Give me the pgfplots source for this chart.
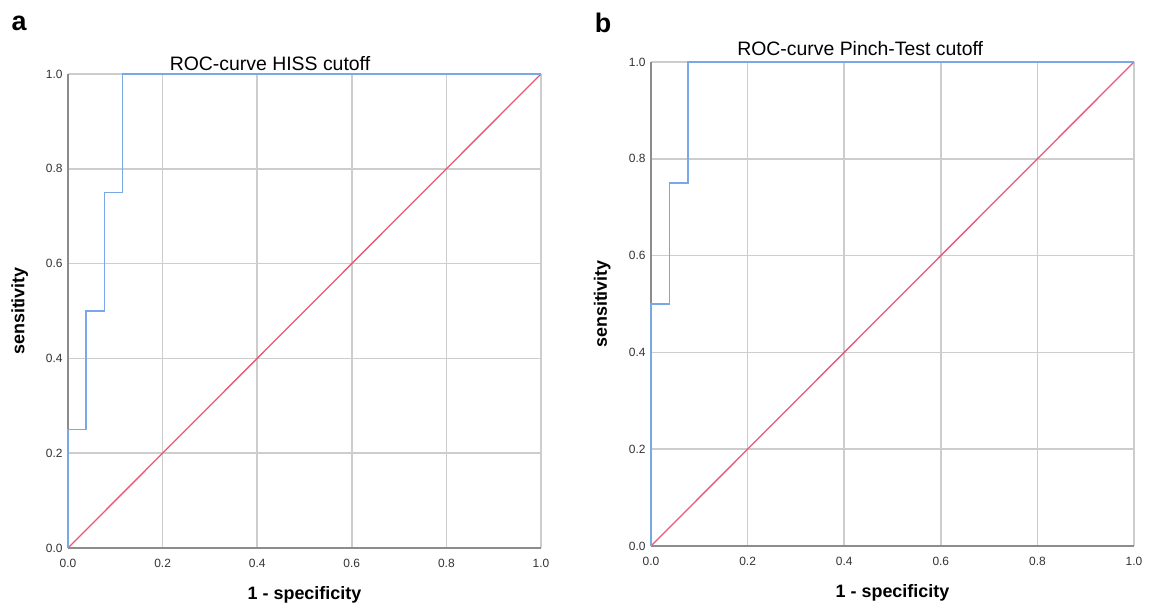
\documentclass[border=0pt]{standalone}
\usepackage{pgfplots}
\pgfplotsset{compat=1.18}
\usepackage{fontspec}
\setmainfont{Liberation Sans}
\definecolor{roc}{HTML}{7AA7E6}
\definecolor{diag}{HTML}{E8587A}
\definecolor{gridc}{HTML}{CDCDCD}
\definecolor{axc}{HTML}{8C8C8C}
\definecolor{tickc}{HTML}{333333}
\pgfplotsset{
  rocstyle/.style={
    scale only axis,
    xmin=0, xmax=1, ymin=0, ymax=1,
    xtick={0,0.2,...,1.0}, ytick={0,0.2,...,1.0},
    xticklabel style={yshift=-8bp, /pgf/number format/.cd,fixed,fixed zerofill,precision=1},
    yticklabel style={xshift=-2bp, /pgf/number format/.cd,fixed,fixed zerofill,precision=1},
    /pgf/number format/assume math mode=true,
    tick label style={font=\fontsize{12}{14}\selectfont, text=tickc},
    grid=major,
    major grid style={gridc, line width=1.5pt},
    axis x line*=bottom, axis y line*=left,
    axis line style={axc, line width=2pt, -},
    tick style={draw=none},
    xlabel={\textbf{1 - specificity}},
    ylabel={\textbf{sensitivity}},
    xlabel style={font=\fontsize{18}{20}\selectfont, at={(axis description cs:0.5,0)}, anchor=center, yshift=-47bp},
    title style={font=\fontsize{19.5}{22}\selectfont, anchor=center},
    clip=false,
  }
}
\begin{document}
\begin{tikzpicture}[x=1bp,y=1bp]
\path (0,0) rectangle (1150,605);
\node[font=\bfseries\fontsize{27}{29}\selectfont] at (19,582) {a};
\node[font=\bfseries\fontsize{27}{29}\selectfont] at (603,582) {b};
\begin{axis}[rocstyle,
  at={(68bp,57bp)}, anchor=south west,
  width=473bp, height=474bp,
  title={ROC-curve HISS cutoff},
  title style={at={(0.427,1)}, yshift=4bp},
  ylabel style={font=\fontsize{18}{20}\selectfont, at={(axis description cs:-0.102,0.5)}, anchor=center, rotate=0},
]
\addplot[diag, line width=1.3pt] coordinates {(0,0) (1,1)};
\addplot[roc, line width=1.5pt] coordinates {
(0,0) (0,0.25) (0.0385,0.25) (0.0385,0.5) (0.0769,0.5) (0.0769,0.75) (0.1154,0.75) (0.1154,1) (1,1)};
\end{axis}
\begin{axis}[rocstyle,
  at={(651bp,59bp)}, anchor=south west,
  width=483bp, height=484bp,
  title={ROC-curve Pinch-Test cutoff},
  title style={at={(0.433,1)}, yshift=7bp},
  ylabel style={font=\fontsize{18}{20}\selectfont, at={(axis description cs:-0.101,0.5)}, anchor=center, rotate=0},
]
\addplot[diag, line width=1.3pt] coordinates {(0,0) (1,1)};
\addplot[roc, line width=1.5pt] coordinates {
(0,0) (0,0.5) (0.0385,0.5) (0.0385,0.75) (0.0769,0.75) (0.0769,1) (1,1)};
\end{axis}
\end{tikzpicture}
\end{document}
